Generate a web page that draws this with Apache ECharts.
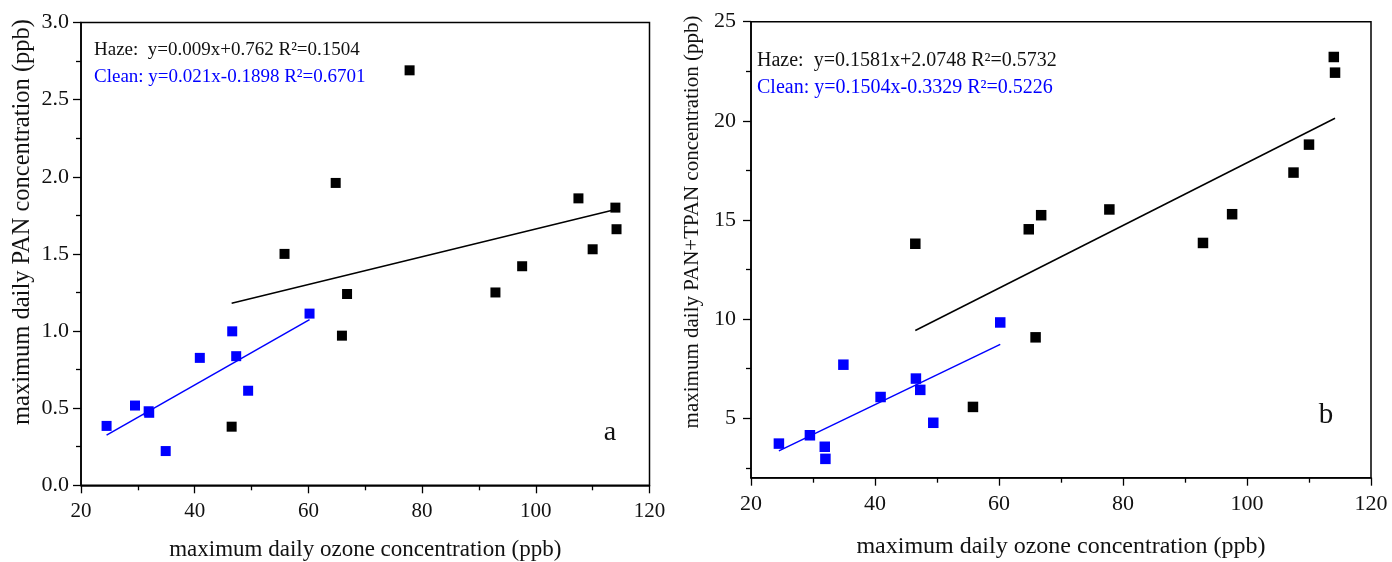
<!DOCTYPE html>
<html>
<head>
<meta charset="utf-8">
<script src="https://cdn.jsdelivr.net/npm/echarts@6/dist/echarts.min.js"></script>
<style>
  html, body { margin: 0; padding: 0; background: #fff; }
  #chart { width: 1392px; height: 562px; }
</style>
</head>
<body>
<div id="chart"></div>
<script>
"use strict";
/**数据**/
var ozoneHaze = [46.5, 55.8, 64.8, 65.9, 66.8, 77.8, 92.9, 97.6, 107.5, 110.0, 114.0, 114.2];
var panHaze = [0.38, 1.50, 1.96, 0.97, 1.24, 2.69, 1.25, 1.42, 1.86, 1.53, 1.80, 1.66];
var panTpanHaze = [13.8, 5.57, 14.53, 9.08, 15.24, 15.53, 13.84, 15.29, 17.39, 18.80, 23.22, 22.43];

var ozoneClean = [24.5, 29.5, 31.9, 32.0, 34.9, 40.9, 46.6, 47.3, 49.4, 60.2];
var panClean = [0.385, 0.517, 0.48, 0.47, 0.222, 0.826, 0.998, 0.837, 0.613, 1.113];
var panTpanClean = [3.72, 4.14, 3.56, 2.95, 7.70, 6.07, 7.00, 6.43, 4.77, 9.83];

// slope, intercept
var fitHazeA = [0.009, 0.762];
var fitCleanA = [0.021, -0.1898];
var fitHazeB = [0.1581, 2.0748];
var fitCleanB = [0.1504, -0.3329];

var xTicks = [20, 40, 60, 80, 100, 120];
var yTicksA = [0, 0.5, 1.0, 1.5, 2.0, 2.5, 3.0];
var yTicksB = [5, 10, 15, 20, 25];
var yMinorB = [2.5, 7.5, 12.5, 17.5, 22.5];

var textA = ["Haze:  y=0.009x+0.762 R\u00b2=0.1504", "Clean: y=0.021x-0.1898 R\u00b2=0.6701"];
var textB = ["Haze:  y=0.1581x+2.0748 R\u00b2=0.5732", "Clean: y=0.1504x-0.3329 R\u00b2=0.5226"];
var xTitle = "maximum daily ozone concentration (ppb)";
var yTitleA = "maximum daily PAN concentration (ppb)";
var yTitleB = "maximum daily PAN+TPAN concentration (ppb)";

var FONT = "'Liberation Serif', 'Times New Roman', serif";

function pairs(xs, ys) {
  return xs.map(function (x, i) { return [x, ys[i]]; });
}
function fitLine(xs, fit) {
  var lo = Math.min.apply(null, xs), hi = Math.max.apply(null, xs);
  return [[lo, fit[0] * lo + fit[1]], [hi, fit[0] * hi + fit[1]]];
}

var axisLine = { lineStyle: { color: "#000", width: 1.5 } };
var tickStyle = { color: "#000", width: 1.3 };

function xAxisFor(grid, gap, nameSize, labelSize) {
  return {
    type: "value", gridIndex: grid, min: xTicks[0], max: xTicks[xTicks.length - 1], interval: 20,
    name: xTitle, nameLocation: "middle", nameGap: gap,
    nameTextStyle: { color: "#111", fontFamily: FONT, fontSize: nameSize },
    axisLine: axisLine, splitLine: { show: false },
    axisTick: { length: 8, lineStyle: tickStyle },
    minorTick: { show: true, splitNumber: 2, length: 5, lineStyle: tickStyle },
    axisLabel: { margin: 16, color: "#111", fontFamily: FONT, fontSize: labelSize }
  };
}

function txt(x, y, s, color, size, align) {
  return {
    type: "text", x: x, y: y,
    style: { text: s, fill: color, font: size + "px " + FONT, align: align || "left", verticalAlign: "middle" }
  };
}

function init() {
  var chart = echarts.init(document.getElementById("chart"));
  var option = {
    animation: false,
    backgroundColor: "#fff",
    grid: [
      { left: 81, top: 22.5, width: 568.5, height: 462.8, outerBoundsMode: "none", containLabel: false,
        show: true, borderColor: "#000", borderWidth: 1.5, backgroundColor: "transparent" },
      { left: 751, top: 21.7, width: 620, height: 456, outerBoundsMode: "none", containLabel: false,
        show: true, borderColor: "#000", borderWidth: 1.5, backgroundColor: "transparent" }
    ],
    xAxis: [xAxisFor(0, 53, 23, 21), xAxisFor(1, 57, 24, 22)],
    yAxis: [
      {
        type: "value", gridIndex: 0, min: yTicksA[0], max: yTicksA[yTicksA.length - 1], interval: 0.5,
        axisLine: axisLine, splitLine: { show: false },
        axisTick: { length: 8, lineStyle: tickStyle },
        minorTick: { show: true, splitNumber: 2, length: 5, lineStyle: tickStyle },
        axisLabel: { margin: 12, color: "#111", fontFamily: FONT, fontSize: 22, formatter: function (v) { return v.toFixed(1); } }
      },
      {
        type: "value", gridIndex: 1, position: "left", min: 2, max: 25,
        axisLine: axisLine, splitLine: { show: false },
        axisTick: { length: 8, lineStyle: tickStyle, customValues: yTicksB },
        axisLabel: { margin: 15, color: "#111", fontFamily: FONT, fontSize: 22, customValues: yTicksB }
      },
      {
        type: "value", gridIndex: 1, position: "left", offset: 0, min: 2, max: 25,
        axisLine: { show: false }, splitLine: { show: false },
        axisTick: { length: 5, lineStyle: tickStyle, customValues: yMinorB },
        axisLabel: { show: false }
      }
    ],
    series: [
      { type: "line", xAxisIndex: 0, yAxisIndex: 0, data: fitLine(ozoneHaze, fitHazeA), symbol: "none", lineStyle: { color: "#000", width: 1.5 }, z: 2 },
      { type: "line", xAxisIndex: 0, yAxisIndex: 0, data: fitLine(ozoneClean, fitCleanA), symbol: "none", lineStyle: { color: "#0000ff", width: 1.5 }, z: 2 },
      { type: "scatter", xAxisIndex: 0, yAxisIndex: 0, data: pairs(ozoneHaze, panHaze), symbol: "rect", symbolSize: 10, itemStyle: { color: "#000", opacity: 1 }, z: 3 },
      { type: "scatter", xAxisIndex: 0, yAxisIndex: 0, data: pairs(ozoneClean, panClean), symbol: "rect", symbolSize: 10, itemStyle: { color: "#0000ff", opacity: 1 }, z: 3 },

      { type: "line", xAxisIndex: 1, yAxisIndex: 1, data: fitLine(ozoneHaze, fitHazeB), symbol: "none", lineStyle: { color: "#000", width: 1.5 }, z: 2 },
      { type: "line", xAxisIndex: 1, yAxisIndex: 1, data: fitLine(ozoneClean, fitCleanB), symbol: "none", lineStyle: { color: "#0000ff", width: 1.5 }, z: 2 },
      { type: "scatter", xAxisIndex: 1, yAxisIndex: 1, data: pairs(ozoneHaze, panTpanHaze), symbol: "rect", symbolSize: 10.5, itemStyle: { color: "#000", opacity: 1 }, z: 3 },
      { type: "scatter", xAxisIndex: 1, yAxisIndex: 1, data: pairs(ozoneClean, panTpanClean), symbol: "rect", symbolSize: 10.5, itemStyle: { color: "#0000ff", opacity: 1 }, z: 3 }
    ],
    graphic: [
      txt(94, 50, textA[0], "#111", 19),
      txt(94, 77, textA[1], "#0000ff", 19),
      txt(757, 61, textB[0], "#111", 20),
      txt(757, 88, textB[1], "#0000ff", 20),
      txt(610, 433, "a", "#111", 28, "center"),
      txt(1326, 415, "b", "#111", 29, "center"),
      { type: "text", x: 23, y: 222, rotation: Math.PI / 2,
        style: { text: yTitleA, fill: "#111", font: "24.5px " + FONT, align: "center", verticalAlign: "middle" } },
      { type: "text", x: 692, y: 222, rotation: Math.PI / 2,
        style: { text: yTitleB, fill: "#111", font: "21px " + FONT, align: "center", verticalAlign: "middle" } }
    ]
  };
  chart.setOption(option);
}
init();
</script>
</body>
</html>
